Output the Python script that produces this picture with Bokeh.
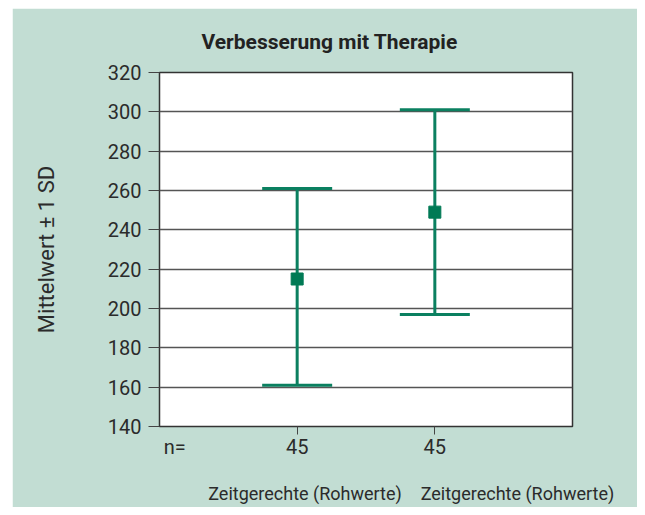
from bokeh.plotting import figure
from bokeh.models import (ColumnDataSource, Range1d, FixedTicker, Whisker, TeeHead,
                          Title, LinearAxis, Spacer, Row, Column)
from bokeh.embed import file_html
from bokeh.resources import INLINE

# ---- data ----
positions = [1, 2]
categories = ["Zeitgerechte (Rohwerte)", "Zeitgerechte (Rohwerte)"]
n_label = "n="
n_values = ["45", "45"]
means = [215, 249]
upper = [261, 301]
lower = [161, 197]
y_ticks = [140, 160, 180, 200, 220, 240, 260, 280, 300, 320]

BG = "#c2ddd3"
GREEN = "#0b8060"
TXT = "#2b2b2b"
FONT = "Roboto"

src = ColumnDataSource(dict(x=positions, mean=means, upper=upper, lower=lower))

p = figure(width=625, height=499, output_backend="svg", toolbar_location=None,
           x_range=Range1d(0, 3), y_range=Range1d(140, 320),
           min_border_left=147, min_border_right=65, min_border_top=64,
           min_border_bottom=81)
p.border_fill_color = BG
p.background_fill_color = "white"
p.outline_line_color = "#333333"
p.outline_line_width = 1.5

p.title = Title(text="Verbesserung mit Therapie", align="left", offset=42,
                text_font=FONT, text_font_size="21px", text_font_style="bold",
                text_color="#222222", standoff=38)

# y axis
p.yaxis.ticker = FixedTicker(ticks=y_ticks)
p.yaxis.major_tick_out = 11
p.yaxis.major_tick_in = 0
p.yaxis.minor_tick_line_color = None
p.yaxis.major_tick_line_color = "#444444"
p.yaxis.axis_line_color = "#333333"
p.yaxis.major_label_text_font = FONT
p.yaxis.major_label_text_font_size = "20px"
p.yaxis.major_label_text_color = TXT
p.yaxis.major_label_standoff = 7
p.yaxis.axis_label = "Mittelwert \u00b1 1 SD"
p.yaxis.axis_label_text_font = FONT
p.yaxis.axis_label_text_font_size = "22px"
p.yaxis.axis_label_text_font_style = "normal"
p.yaxis.axis_label_text_color = TXT
p.yaxis.axis_label_standoff = 46

p.ygrid.ticker = FixedTicker(ticks=y_ticks)
p.ygrid.grid_line_color = "#555555"
p.ygrid.grid_line_width = 1.3
p.xgrid.grid_line_color = None

# x axis A: tick marks only
p.xaxis.ticker = FixedTicker(ticks=positions)
p.xaxis.major_label_overrides = {pos: "" for pos in positions}
p.xaxis.major_label_text_font_size = "1px"
p.xaxis.major_label_standoff = 0
p.xaxis.major_tick_out = 8
p.xaxis.major_tick_in = 0
p.xaxis.minor_tick_line_color = None
p.xaxis.major_tick_line_color = "#444444"
p.xaxis.axis_line_color = "#333333"

# x axis B: n= and sample sizes
n_pos = [0.11] + positions
axB = LinearAxis(ticker=FixedTicker(ticks=n_pos),
                 major_label_overrides={pos: t for pos, t in zip(n_pos, [n_label] + n_values)},
                 axis_line_color=None, major_tick_line_color=None,
                 minor_tick_line_color=None, major_tick_out=0, major_tick_in=0,
                 major_label_standoff=0, major_label_text_font=FONT,
                 major_label_text_font_size="20px", major_label_text_color=TXT)
p.add_layout(axB, "below")

# x axis C: category names
cat_pos = [1.057, 2.60]
axC = LinearAxis(ticker=FixedTicker(ticks=cat_pos),
                 major_label_overrides={pos: c for pos, c in zip(cat_pos, categories)},
                 axis_line_color=None, major_tick_line_color=None,
                 minor_tick_line_color=None, major_tick_out=0, major_tick_in=0,
                 major_label_standoff=21, major_label_text_font=FONT,
                 major_label_text_font_size="18px", major_label_text_color=TXT)
p.add_layout(axC, "below")

# error bars
w = Whisker(source=src, base="x", upper="upper", lower="lower",
            line_color=GREEN, line_width=3,
            upper_head=TeeHead(size=70, line_color=GREEN, line_width=3),
            lower_head=TeeHead(size=70, line_color=GREEN, line_width=3))
p.add_layout(w)
p.scatter("x", "mean", source=src, marker="square", size=12,
          fill_color="#007a55", line_color="#007a55")

layout = Column(Spacer(height=8), Row(Spacer(width=12), p))
open("out.html", "w").write(file_html(layout, INLINE))
